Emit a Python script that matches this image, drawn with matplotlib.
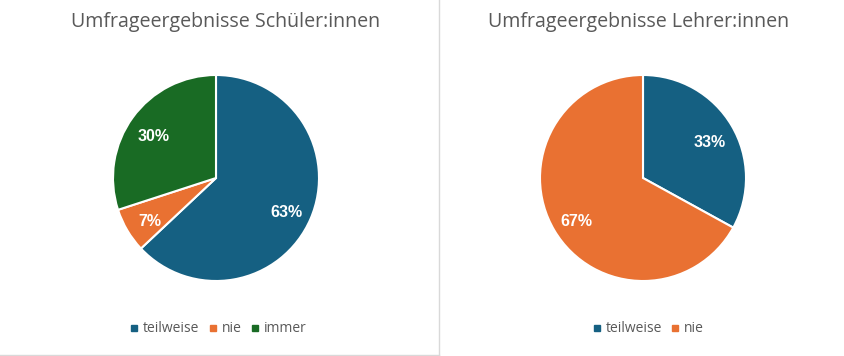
import matplotlib
matplotlib.use("Agg")
import matplotlib.pyplot as plt
import matplotlib.transforms as mtransforms
from matplotlib.lines import Line2D

titles = ["Umfrageergebnisse Schüler:innen", "Umfrageergebnisse Lehrer:innen"]
cats_left = ["teilweise", "nie", "immer"]
vals_left = [63, 7, 30]
cats_right = ["teilweise", "nie"]
vals_right = [33, 67]
colors = {"teilweise": "#156082", "nie": "#E97132", "immer": "#196B24"}

W, H = 845, 356
fig = plt.figure(figsize=(W / 100, H / 100), dpi=100)
fig.patch.set_facecolor("white")

# right and bottom border of left chart area
fig.add_artist(Line2D([439.5 / W, 439.5 / W], [1.5 / H, 1.0], transform=fig.transFigure,
                      color="#D9D9D9", linewidth=1.0))
fig.add_artist(Line2D([0, 439.5 / W], [1.5 / H, 1.5 / H], transform=fig.transFigure,
                      color="#D9D9D9", linewidth=1.0))

R = 103
def make_pie(cx, cy, cats, vals, title, title_cx, legend_cx):
    ax = fig.add_axes([(cx - R) / W, (H - cy - R) / H, 2 * R / W, 2 * R / H])
    _, _, autotexts = ax.pie(
        vals, colors=[colors[c] for c in cats], startangle=90, counterclock=False,
        autopct=lambda p: f"{p:.0f}%", pctdistance=0.75,
        wedgeprops=dict(edgecolor="white", linewidth=1.5),
        textprops=dict(color="white", fontsize=11.5, fontweight="bold", family="Liberation Sans"))
    shift = mtransforms.ScaledTranslation(0, -4 / 100, fig.dpi_scale_trans)
    for t in autotexts:
        t.set_transform(t.get_transform() + shift)
    ax.set_xlim(-1, 1)
    ax.set_ylim(-1, 1)
    ax.set_aspect("equal")
    ax.axis("off")
    fig.text(title_cx / W, 1 - 22 / H, title, ha="center", va="center", fontsize=14.1,
             color="#595959", family="Open Sans")
    handles = [Line2D([], [], marker="s", linestyle="none", markersize=5,
                      markerfacecolor=colors[c], markeredgecolor=colors[c]) for c in cats]
    fig.legend(handles, cats, loc="center", bbox_to_anchor=(legend_cx / W, 1 - 329 / H),
               ncol=len(cats), frameon=False, labelcolor="#595959",
               handletextpad=0.15, columnspacing=0.45, handlelength=1.0,
               prop=dict(family="Open Sans", size=10))

make_pie(216, 178, cats_left, vals_left, titles[0], 226, 217)
make_pie(643, 178, cats_right, vals_right, titles[1], 639, 647)

fig.savefig("out.png", dpi=100, facecolor="white")
